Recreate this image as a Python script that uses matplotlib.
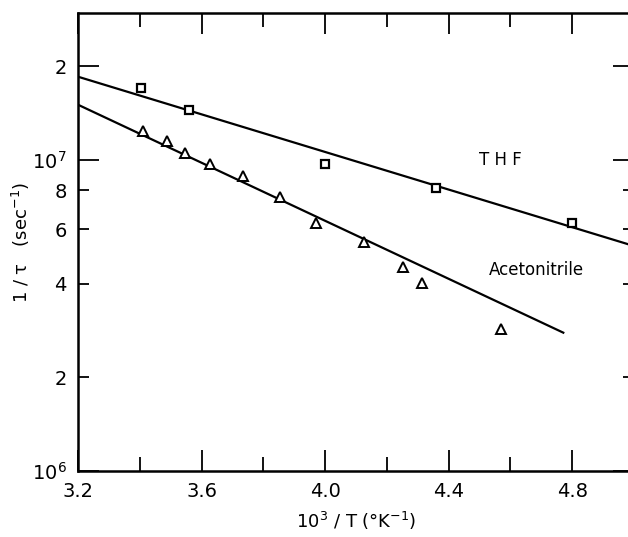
import matplotlib
matplotlib.use("Agg")
import matplotlib.pyplot as plt
from matplotlib.ticker import FixedLocator, FixedFormatter

plt.rcParams['font.family'] = ['DejaVu Sans']

# THF data (1e3/T, 1/tau)
thf_x = [3.404, 3.558, 3.999, 4.359, 4.800]
thf_y = [1.71e7, 1.45e7, 9.69e6, 8.11e6, 6.29e6]
thf_line_x = [3.2, 5.0]
thf_line_y = [1.853e7, 5.29e6]

# Acetonitrile data
ace_x = [3.409, 3.487, 3.547, 3.627, 3.733, 3.854, 3.970, 4.127, 4.253, 4.312, 4.568]
ace_y = [1.242e7, 1.153e7, 1.053e7, 9.71e6, 8.88e6, 7.62e6, 6.26e6, 5.44e6, 4.52e6, 4.03e6, 2.855e6]
ace_line_x = [3.2, 4.771]
ace_line_y = [1.506e7, 2.785e6]

x_major = [3.2, 3.6, 4.0, 4.4, 4.8]
x_major_labels = ["3.2", "3.6", "4.0", "4.4", "4.8"]
x_minor = [3.4, 3.8, 4.2, 4.6]
y_major = [1e6, 1e7, 2e7]
y_major_labels = ["$10^6$", "$10^7$", "2"]
y_minor = [2e6, 4e6, 6e6, 8e6]
y_minor_labels = ["2", "4", "6", "8"]

fig = plt.figure(figsize=(6.28, 5.37), dpi=100)
ax = fig.add_axes([0.1242, 0.1229, 0.8854, 0.8529])
ax.set_yscale('log')
ax.set_xlim(3.2, 5.0)
ax.set_ylim(1e6, 2.97e7)

ax.plot(thf_line_x, thf_line_y, color='black', lw=1.6, zorder=2)
ax.plot(ace_line_x, ace_line_y, color='black', lw=1.6, zorder=2)
ax.plot(thf_x, thf_y, ls='none', marker='s', ms=6, mfc='white', mec='black', mew=1.6, zorder=3)
ax.plot(ace_x, ace_y, ls='none', marker='^', ms=7.5, mfc='white', mec='black', mew=1.4, zorder=3)

ax.xaxis.set_major_locator(FixedLocator(x_major))
ax.xaxis.set_major_formatter(FixedFormatter(x_major_labels))
ax.xaxis.set_minor_locator(FixedLocator(x_minor))
ax.yaxis.set_major_locator(FixedLocator(y_major))
ax.yaxis.set_major_formatter(FixedFormatter(y_major_labels))
ax.yaxis.set_minor_locator(FixedLocator(y_minor))
ax.yaxis.set_minor_formatter(FixedFormatter(y_minor_labels))

ax.tick_params(axis='both', which='both', direction='in', top=True, right=True,
               width=1.3, colors='black', labelsize=14)
ax.tick_params(axis='x', which='major', length=15, pad=8)
ax.tick_params(axis='x', which='minor', length=10)
ax.tick_params(axis='y', which='major', length=15, pad=8)
ax.tick_params(axis='y', which='minor', length=8, pad=8, labelsize=14)

for s in ax.spines.values():
    s.set_linewidth(1.8)

ax.text(4.566, 1.0e7, "T H F", fontsize=12, ha='center', va='center')
ax.text(4.685, 4.43e6, "Acetonitrile", fontsize=12, ha='center', va='center')

ax.set_xlabel("$10^3$ / T (°K$^{-1}$)", fontsize=13, labelpad=6)
ax.set_ylabel("1 / τ   (sec$^{-1}$)", fontsize=13, labelpad=0)

fig.savefig("out.png", dpi=100)
